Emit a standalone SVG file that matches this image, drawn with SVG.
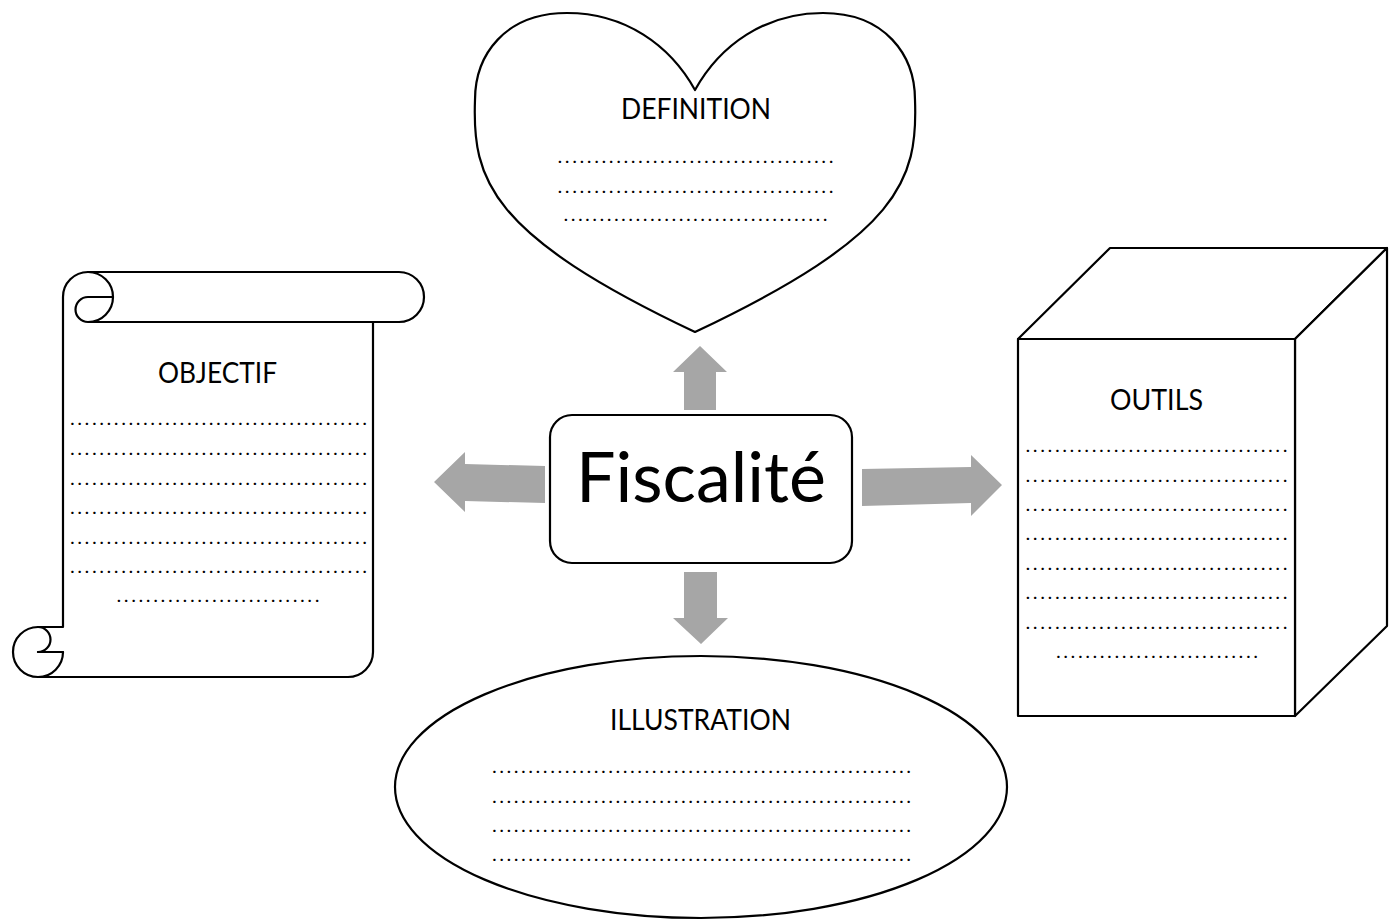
<svg xmlns="http://www.w3.org/2000/svg" width="1394" height="922" viewBox="0 0 1394 922">
  <style>
    .shape { fill: #ffffff; stroke: #000000; stroke-width: 2.2; stroke-linejoin: round; }
    .line { fill: none; stroke: #000000; stroke-width: 2.2; stroke-linecap: round; }
    .label { font-family: Lato, "Open Sans", sans-serif; font-size: 29px; fill: #000000; }
    .title { font-family: Lato, "Open Sans", sans-serif; font-size: 70px; fill: #000000; }
    .dots { font-family: Lato, "Liberation Sans", sans-serif; font-size: 16px; font-weight: 700; fill: #000000; }
    .arrow { fill: #a6a6a6; stroke: none; }
  </style>
  <rect width="1394" height="922" fill="#ffffff"/>

  <!-- block arrows radiating from the centre -->
  <g id="connectors">
    <polygon class="arrow" points="684,410 684,372 673,372 700,346 727,372 716,372 716,410"/>
    <polygon class="arrow" points="684,572 717,572 717,618 728,618 701,644 673,618 684,618"/>
    <polygon class="arrow" points="545,466 545,503 465,501 465,512 434,482 465,452 465,464"/>
    <polygon class="arrow" points="862,469 971,467 971,455 1002,485 971,516 971,503 862,506"/>
  </g>

  <!-- centre box -->
  <g id="fiscalite">
    <rect class="shape" x="550" y="415" width="302" height="148" rx="22" ry="22"/>
    <text class="title" x="576" y="502" textLength="250" lengthAdjust="spacingAndGlyphs">Fiscalité</text>
  </g>

  <!-- heart -->
  <g id="definition">
    <path class="shape" d="M695,90 C670,45 625,13 567,13 C505,13 475,55 475,100 C472,180 490,235 695,332 C900,235 918,180 915,100 C915,55 885,13 823,13 C765,13 720,45 695,90 Z"/>
    <text class="label" x="621" y="119" textLength="150" lengthAdjust="spacingAndGlyphs">DEFINITION</text>
    <text class="dots" x="558" y="163" textLength="275" lengthAdjust="spacing">......................................</text>
    <text class="dots" x="558" y="193" textLength="275" lengthAdjust="spacing">......................................</text>
    <text class="dots" x="564" y="221" textLength="263" lengthAdjust="spacing">.....................................</text>
  </g>

  <!-- scroll -->
  <g id="objectif">
    <path class="shape" d="M63,297 A25,25 0 0 1 88,272 H399 A25,25 0 0 1 399,322 H373 V652 A25,25 0 0 1 348,677 H38 A25,25 0 0 1 38,627 H63 Z"/>
    <path class="line" d="M88,272 A25,25 0 0 1 88,322 H373"/>
    <path class="line" d="M113,297 H88 A12.5,12.5 0 0 0 88,322"/>
    <path class="line" d="M63,652 A25,25 0 0 1 38,677"/>
    <path class="line" d="M38,652 H63"/>
    <path class="line" d="M38,627 A12.5,12.5 0 0 1 38,652"/>
    <text class="label" x="158" y="383" textLength="119" lengthAdjust="spacingAndGlyphs">OBJECTIF</text>
    <text class="dots" x="70.5" y="425" textLength="296" lengthAdjust="spacing">.........................................</text>
    <text class="dots" x="70.5" y="455" textLength="296" lengthAdjust="spacing">.........................................</text>
    <text class="dots" x="70.5" y="485" textLength="296" lengthAdjust="spacing">.........................................</text>
    <text class="dots" x="70.5" y="514" textLength="296" lengthAdjust="spacing">.........................................</text>
    <text class="dots" x="70.5" y="544" textLength="296" lengthAdjust="spacing">.........................................</text>
    <text class="dots" x="70.5" y="573" textLength="296" lengthAdjust="spacing">.........................................</text>
    <text class="dots" x="117" y="602" textLength="202" lengthAdjust="spacing">............................</text>
  </g>

  <!-- box in perspective -->
  <g id="outils">
    <polygon class="shape" points="1018,339 1110,248 1387,248 1295,339"/>
    <polygon class="shape" points="1295,339 1387,248 1387,626 1295,716"/>
    <rect class="shape" x="1018" y="339" width="277" height="377"/>
    <text class="label" x="1110" y="410" textLength="93" lengthAdjust="spacingAndGlyphs">OUTILS</text>
    <text class="dots" x="1026" y="452" textLength="261" lengthAdjust="spacing">....................................</text>
    <text class="dots" x="1026" y="482" textLength="261" lengthAdjust="spacing">....................................</text>
    <text class="dots" x="1026" y="511" textLength="261" lengthAdjust="spacing">....................................</text>
    <text class="dots" x="1026" y="540" textLength="261" lengthAdjust="spacing">....................................</text>
    <text class="dots" x="1026" y="570" textLength="261" lengthAdjust="spacing">....................................</text>
    <text class="dots" x="1026" y="599" textLength="261" lengthAdjust="spacing">....................................</text>
    <text class="dots" x="1026" y="629" textLength="261" lengthAdjust="spacing">....................................</text>
    <text class="dots" x="1056.5" y="658" textLength="201" lengthAdjust="spacing">............................</text>
  </g>

  <!-- ellipse -->
  <g id="illustration">
    <ellipse class="shape" cx="701" cy="787" rx="306" ry="131"/>
    <text class="label" x="610" y="730" textLength="181" lengthAdjust="spacingAndGlyphs">ILLUSTRATION</text>
    <text class="dots" x="492.5" y="773" textLength="418" lengthAdjust="spacing">..........................................................</text>
    <text class="dots" x="492.5" y="803" textLength="418" lengthAdjust="spacing">..........................................................</text>
    <text class="dots" x="492.5" y="832" textLength="418" lengthAdjust="spacing">..........................................................</text>
    <text class="dots" x="492.5" y="861" textLength="418" lengthAdjust="spacing">..........................................................</text>
  </g>
</svg>
